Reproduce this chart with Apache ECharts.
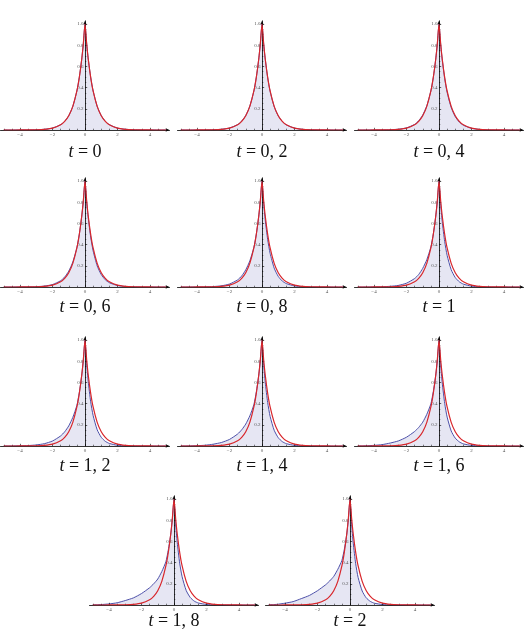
<!DOCTYPE html>
<html>
<head>
<meta charset="utf-8">
<script src="https://cdn.jsdelivr.net/npm/echarts@6/dist/echarts.min.js"></script>
<style>
  html, body { margin: 0; padding: 0; background: #fff; }
  #main { width: 529px; height: 636px; }
</style>
</head>
<body>
<div id="main"></div>
<script>
// x positions where the curves were read
const xs = [-5, -4.5, -4, -3.5, -3, -2.5, -2, -1.5, -1.25, -1, -0.75, -0.5, -0.35, -0.2, -0.1, 0,
  0.1, 0.2, 0.35, 0.5, 0.75, 1, 1.25, 1.5, 2, 2.5, 3, 3.5, 4, 4.5, 5]

// red reference curve (same in every panel)
const red = [0, 0.0001, 0.0003, 0.0009, 0.0025, 0.0067, 0.018, 0.050, 0.082, 0.135, 0.223, 0.368, 0.497, 0.670, 0.819, 1,
  0.819, 0.670, 0.497, 0.368, 0.223, 0.135, 0.082, 0.050, 0.018, 0.0067, 0.0025, 0.0009, 0.0003, 0.0001, 0]

// blue filled curve, one per time step
const blue00 = [0, 0.0001, 0.0003, 0.0009, 0.0025, 0.0067, 0.018, 0.050, 0.082, 0.135, 0.223, 0.368, 0.497, 0.670, 0.819, 1,
  0.819, 0.670, 0.497, 0.368, 0.223, 0.135, 0.082, 0.050, 0.018, 0.0067, 0.0025, 0.0009, 0.0003, 0.0001, 0]
const blue02 = [0, 0.0001, 0.0003, 0.0009, 0.0026, 0.0070, 0.019, 0.051, 0.084, 0.137, 0.225, 0.368, 0.497, 0.670, 0.819, 1,
  0.817, 0.668, 0.493, 0.364, 0.220, 0.133, 0.080, 0.048, 0.018, 0.0064, 0.0023, 0.0008, 0.0003, 0.0001, 0]
const blue04 = [0.0001, 0.0002, 0.0004, 0.0011, 0.0028, 0.0075, 0.020, 0.053, 0.087, 0.142, 0.229, 0.369, 0.497, 0.670, 0.819, 1,
  0.813, 0.661, 0.485, 0.355, 0.212, 0.126, 0.075, 0.045, 0.016, 0.0057, 0.002, 0.0007, 0.0003, 0.0001, 0]
const blue06 = [0.0001, 0.0002, 0.0005, 0.0013, 0.0033, 0.0087, 0.023, 0.059, 0.094, 0.150, 0.236, 0.371, 0.498, 0.669, 0.818, 1,
  0.807, 0.651, 0.471, 0.341, 0.199, 0.117, 0.068, 0.040, 0.014, 0.0046, 0.0016, 0.0005, 0.0002, 0.0001, 0]
const blue08 = [0.0001, 0.0003, 0.0007, 0.0017, 0.0043, 0.011, 0.028, 0.067, 0.104, 0.162, 0.246, 0.374, 0.499, 0.668, 0.818, 1,
  0.795, 0.631, 0.447, 0.317, 0.178, 0.100, 0.056, 0.032, 0.010, 0.003, 0.001, 0.0003, 0.0001, 0, 0]
const blue10 = [0.0002, 0.0004, 0.001, 0.0025, 0.0065, 0.015, 0.036, 0.080, 0.118, 0.176, 0.258, 0.378, 0.502, 0.668, 0.817, 1,
  0.785, 0.616, 0.429, 0.298, 0.163, 0.089, 0.049, 0.027, 0.008, 0.0024, 0.0007, 0.0002, 0.0001, 0, 0]
const blue12 = [0.0003, 0.0007, 0.0018, 0.0042, 0.010, 0.022, 0.047, 0.095, 0.134, 0.190, 0.270, 0.383, 0.505, 0.668, 0.816, 1,
  0.779, 0.607, 0.417, 0.287, 0.153, 0.082, 0.044, 0.024, 0.0067, 0.0019, 0.0006, 0.0002, 0, 0, 0]
const blue14 = [0.0004, 0.0011, 0.003, 0.0071, 0.017, 0.033, 0.062, 0.113, 0.153, 0.207, 0.284, 0.390, 0.510, 0.668, 0.815, 1,
  0.775, 0.600, 0.410, 0.279, 0.148, 0.078, 0.041, 0.022, 0.006, 0.0017, 0.0005, 0.0001, 0, 0, 0]
const blue16 = [0.0008, 0.0022, 0.006, 0.013, 0.028, 0.048, 0.083, 0.137, 0.175, 0.225, 0.299, 0.398, 0.515, 0.668, 0.814, 1,
  0.771, 0.595, 0.403, 0.273, 0.142, 0.074, 0.039, 0.020, 0.0055, 0.0015, 0.0004, 0.0001, 0, 0, 0]
const blue18 = [0.0015, 0.004, 0.010, 0.021, 0.042, 0.067, 0.108, 0.163, 0.200, 0.245, 0.316, 0.408, 0.520, 0.668, 0.813, 1,
  0.767, 0.589, 0.395, 0.266, 0.137, 0.071, 0.036, 0.019, 0.005, 0.0013, 0.0004, 0.0001, 0, 0, 0]
const blue20 = [0.002, 0.006, 0.017, 0.032, 0.060, 0.090, 0.135, 0.191, 0.227, 0.270, 0.337, 0.420, 0.525, 0.668, 0.812, 1,
  0.763, 0.583, 0.389, 0.259, 0.132, 0.067, 0.034, 0.017, 0.0045, 0.0012, 0.0003, 0.0001, 0, 0, 0]

const tLabels = ['0', '0, 2', '0, 4', '0, 6', '0, 8', '1', '1, 2', '1, 4', '1, 6', '1, 8', '2']
const blueCurves = [blue00, blue02, blue04, blue06, blue08, blue10, blue12, blue14, blue16, blue18, blue20]

// ticks
const xMajor = [-4, -2, 0, 2, 4]
const xMinor = [-5, -4.5, -3.5, -3, -2.5, -1.5, -1, -0.5, 0.5, 1, 1.5, 2.5, 3, 3.5, 4.5, 5]
const yMajor = [0.2, 0.4, 0.6, 0.8, 1.0]
const yMinor = [0.05, 0.1, 0.15, 0.25, 0.3, 0.35, 0.45, 0.5, 0.55, 0.65, 0.7, 0.75, 0.85, 0.9, 0.95]

const chart = echarts.init(document.getElementById('main'))

// layout of the panels (pixels)
const colX = [85, 262, 439]
const lastRowX = [174, 350]
const baseY = [130, 287, 446, 605]
const labelY = [152, 307, 466, 621]
const unitX = 16.25
const unitY = 106
const xMin = -5.2, xMax = 5.2, yMax = 1.03
// y axis sits at x = 0, i.e. this far in from the grid's left edge
const yShift = xMin * unitX

const grids = [], xAxes = [], yAxes = [], series = [], texts = []
const tickFont = { fontSize: 5, color: '#555', fontFamily: 'Liberation Serif' }

blueCurves.forEach((curve, i) => {
  const row = Math.floor(i / 3)
  const cx = row === 3 ? lastRowX[i % 3] : colX[i % 3]
  grids.push({
    left: cx + xMin * unitX,
    top: baseY[row] - yMax * unitY,
    width: (xMax - xMin) * unitX,
    height: yMax * unitY,
    containLabel: false,
    outerBoundsMode: 'none'
  })
  // major axis with labels
  xAxes.push({
    type: 'value', gridIndex: i, min: xMin, max: xMax, z: 2, position: 'bottom',
    splitLine: { show: false },
    axisLine: { onZero: false, symbol: ['none', 'arrow'], symbolSize: [2.5, 4], lineStyle: { color: '#000', width: 0.8 } },
    axisTick: { inside: true, length: 2.2, customValues: xMajor, lineStyle: { color: '#000', width: 0.6 } },
    axisLabel: {
      ...tickFont, margin: 2, customValues: xMajor,
      formatter: v => v < 0 ? '\u2212' + (-v) : String(v)
    }
  })
  // minor ticks only
  xAxes.push({
    type: 'value', gridIndex: i, min: xMin, max: xMax, z: 2, position: 'bottom',
    splitLine: { show: false },
    axisLine: { show: true, onZero: false, lineStyle: { opacity: 0 } },
    axisTick: { inside: true, length: 1.3, customValues: xMinor, lineStyle: { color: '#000', width: 0.5 } },
    axisLabel: { show: false }
  })
  yAxes.push({
    type: 'value', gridIndex: i, min: 0, max: yMax, z: 2, position: 'left', offset: yShift,
    splitLine: { show: false },
    axisLine: { onZero: false, symbol: ['none', 'arrow'], symbolSize: [2.5, 4], lineStyle: { color: '#000', width: 0.8 } },
    axisTick: { inside: true, length: 2.2, customValues: yMajor, lineStyle: { color: '#000', width: 0.6 } },
    axisLabel: { ...tickFont, margin: 1.5, customValues: yMajor, formatter: v => v.toFixed(1) }
  })
  yAxes.push({
    type: 'value', gridIndex: i, min: 0, max: yMax, z: 2, position: 'left', offset: yShift,
    splitLine: { show: false },
    axisLine: { show: true, onZero: false, lineStyle: { opacity: 0 } },
    axisTick: { inside: true, length: 1.3, customValues: yMinor, lineStyle: { color: '#000', width: 0.5 } },
    axisLabel: { show: false }
  })

  series.push({
    type: 'line', xAxisIndex: 2 * i, yAxisIndex: 2 * i,
    data: xs.map((x, k) => [x, curve[k]]),
    showSymbol: false, smooth: 0.2, silent: true, z: 1,
    lineStyle: { color: '#4c4fa8', width: 1 },
    areaStyle: { color: 'rgba(76,79,168,0.2)' }
  })
  series.push({
    type: 'line', xAxisIndex: 2 * i, yAxisIndex: 2 * i,
    data: xs.map((x, k) => [x, red[k]]),
    showSymbol: false, smooth: 0.2, silent: true, z: 3,
    lineStyle: { color: '#d8262b', width: 1.2 }
  })

  texts.push({
    type: 'text', x: cx, y: labelY[row], z: 10,
    style: {
      text: '{i|t} = ' + tLabels[i],
      fontFamily: 'Liberation Serif', fontSize: 18, fill: '#111',
      align: 'center', verticalAlign: 'middle',
      rich: { i: { fontStyle: 'italic', fontFamily: 'Liberation Serif', fontSize: 18 } }
    }
  })
})

chart.setOption({
  animation: false,
  backgroundColor: '#fff',
  grid: grids,
  xAxis: xAxes,
  yAxis: yAxes,
  series: series,
  graphic: texts
})
</script>
</body>
</html>
